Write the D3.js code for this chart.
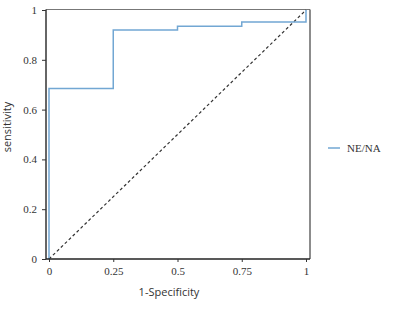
<!DOCTYPE html>
<html>
<head>
<meta charset="utf-8">
<script src="https://cdn.jsdelivr.net/npm/d3@7"></script>
<style>
  body { margin: 0; background: #fff; }
</style>
</head>
<body>
<div id="okvir"></div>
<script>
// ROC curve points (1-specificity, sensitivity)
var fpr = [0, 0, 0.25, 0.25, 0.5, 0.5, 0.75, 0.75, 1, 1];
var tpr = [0, 0.685, 0.685, 0.92, 0.92, 0.935, 0.935, 0.952, 0.952, 1];
var xTicks = [0, 0.25, 0.5, 0.75, 1];
var yTicks = [0, 0.2, 0.4, 0.6, 0.8, 1];
var seriesName = "NE/NA";

var width = 400, height = 309;
var serif = "'Liberation Serif', 'DejaVu Serif', serif";

var svg = d3.select("#okvir").append("svg")
    .attr("width", width)
    .attr("height", height);

// skale
var x = d3.scaleLinear().domain([0, 1]).range([49, 306]);
var y = d3.scaleLinear().domain([0, 1]).range([259, 10]);

// okvir (gornja i desna linija)
svg.append("line")
    .attr("x1", 46).attr("x2", 310).attr("y1", 9.5).attr("y2", 9.5)
    .attr("stroke", "#777").attr("stroke-width", 1.2);
svg.append("line")
    .attr("x1", 310).attr("x2", 310).attr("y1", 9.5).attr("y2", 259)
    .attr("stroke", "#666").attr("stroke-width", 1.5);

// dijagonala
svg.append("line")
    .attr("x1", x(0)).attr("y1", y(0))
    .attr("x2", x(1)).attr("y2", y(1))
    .attr("stroke", "#333")
    .attr("stroke-width", 1.2)
    .attr("stroke-dasharray", "3,2.5");

// ROC krivulja
var pts = fpr.map((d, i) => [d, tpr[i]]);
svg.append("path")
    .datum(pts)
    .attr("fill", "none")
    .attr("stroke", "#72a7d3")
    .attr("stroke-width", 1.5)
    .attr("d", d3.line().x(d => x(d[0])).y(d => y(d[1])));

// y os
var yAxis = svg.append("g")
    .attr("transform", "translate(46,0)")
    .call(d3.axisLeft(y).tickValues(yTicks).tickFormat(d3.format("")).tickSize(4).tickSizeOuter(0));
yAxis.attr("font-family", serif).attr("font-size", 11);
yAxis.select(".domain").attr("d", "M0,9.5V259").attr("stroke", "#333").attr("stroke-width", 1.5);
yAxis.selectAll("line").attr("stroke", "#333");
yAxis.selectAll("text")
    .attr("x", -9)
    .style("font-family", serif)
    .attr("fill", "#333");

// x os
var xAxis = svg.append("g")
    .attr("transform", "translate(0,259)")
    .call(d3.axisBottom(x).tickValues(xTicks).tickFormat(d3.format("")).tickSize(3).tickSizeOuter(0));
xAxis.attr("font-family", serif).attr("font-size", 11);
xAxis.select(".domain").attr("d", "M46,0H310").attr("stroke", "#222").attr("stroke-width", 1.6);
xAxis.selectAll("line").attr("stroke", "#333");
xAxis.selectAll("text")
    .attr("y", 8)
    .style("font-family", serif)
    .attr("fill", "#333");

// naslovi osi
svg.append("text")
    .attr("x", 169).attr("y", 296)
    .attr("text-anchor", "middle")
    .style("font-family", "'Open Sans', sans-serif")
    .style("font-size", "11px")
    .attr("fill", "#333")
    .text("1-Specificity");

svg.append("text")
    .attr("transform", "translate(11,127) rotate(-90)")
    .attr("text-anchor", "middle")
    .style("font-family", "'Open Sans', sans-serif")
    .style("font-size", "11px")
    .attr("fill", "#333")
    .text("sensitivity");

// legenda
svg.append("line")
    .attr("x1", 328).attr("x2", 340).attr("y1", 148).attr("y2", 148)
    .attr("stroke", "#72a7d3").attr("stroke-width", 1.5);
svg.append("text")
    .attr("x", 347).attr("y", 152)
    .style("font-family", serif)
    .style("font-size", "11px")
    .attr("fill", "#333")
    .text(seriesName);
</script>
</body>
</html>
